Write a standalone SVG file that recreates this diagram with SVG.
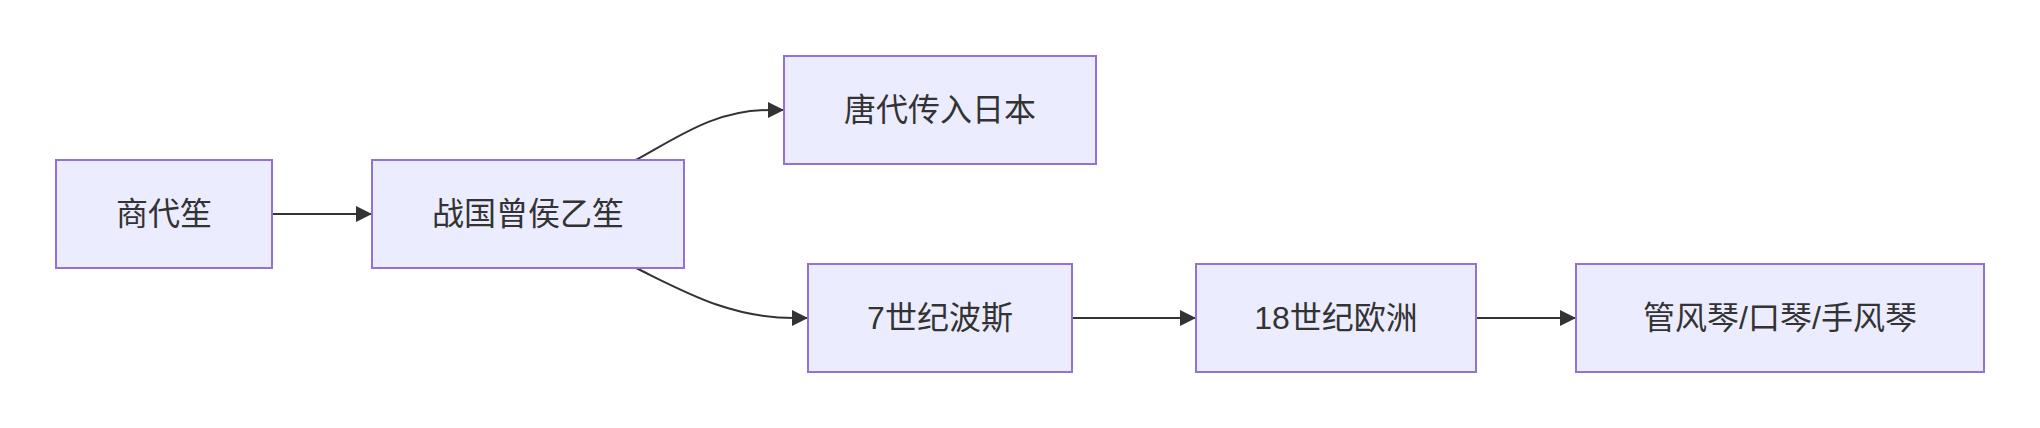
<svg xmlns="http://www.w3.org/2000/svg" width="2040" height="428" viewBox="0 0 2040 428">
<style>
.node rect{fill:#ECECFF;stroke:#9370DB;stroke-width:2px;}
.node text{fill:#333333;font-family:"Liberation Sans","Noto Sans CJK SC",sans-serif;font-size:32px;text-anchor:middle;dominant-baseline:central;}
.edge{fill:none;stroke:#333333;stroke-width:2px;marker-end:url(#arrow);}
</style>
<defs>
<marker id="arrow" markerUnits="userSpaceOnUse" markerWidth="16" markerHeight="16" refX="16" refY="8" orient="auto" viewBox="0 0 16 16">
<path d="M0,0 L16,8 L0,16 z" fill="#333333"/>
</marker>
</defs>
<rect width="2040" height="428" fill="#ffffff"/>
<g id="edges">
<path class="edge" d="M272,214 L372,214"/>
<path class="edge" d="M636,160 C680,136 715,110 770,110 L784,110"/>
<path class="edge" d="M636,268 C685,292 730,318 794,318 L808,318"/>
<path class="edge" d="M1072,318 L1196,318"/>
<path class="edge" d="M1476,318 L1576,318"/>
</g>
<g id="n1" class="node"><rect x="56" y="160" width="216" height="108"/><text x="164" y="214">商代笙</text></g>
<g id="n2" class="node"><rect x="372" y="160" width="312" height="108"/><text x="528" y="214">战国曾侯乙笙</text></g>
<g id="n3" class="node"><rect x="784" y="56" width="312" height="108"/><text x="940" y="110">唐代传入日本</text></g>
<g id="n4" class="node"><rect x="808" y="264" width="264" height="108"/><text x="940" y="318">7世纪波斯</text></g>
<g id="n5" class="node"><rect x="1196" y="264" width="280" height="108"/><text x="1336" y="318">18世纪欧洲</text></g>
<g id="n6" class="node"><rect x="1576" y="264" width="408" height="108"/><text x="1780" y="318">管风琴/口琴/手风琴</text></g>
</svg>
